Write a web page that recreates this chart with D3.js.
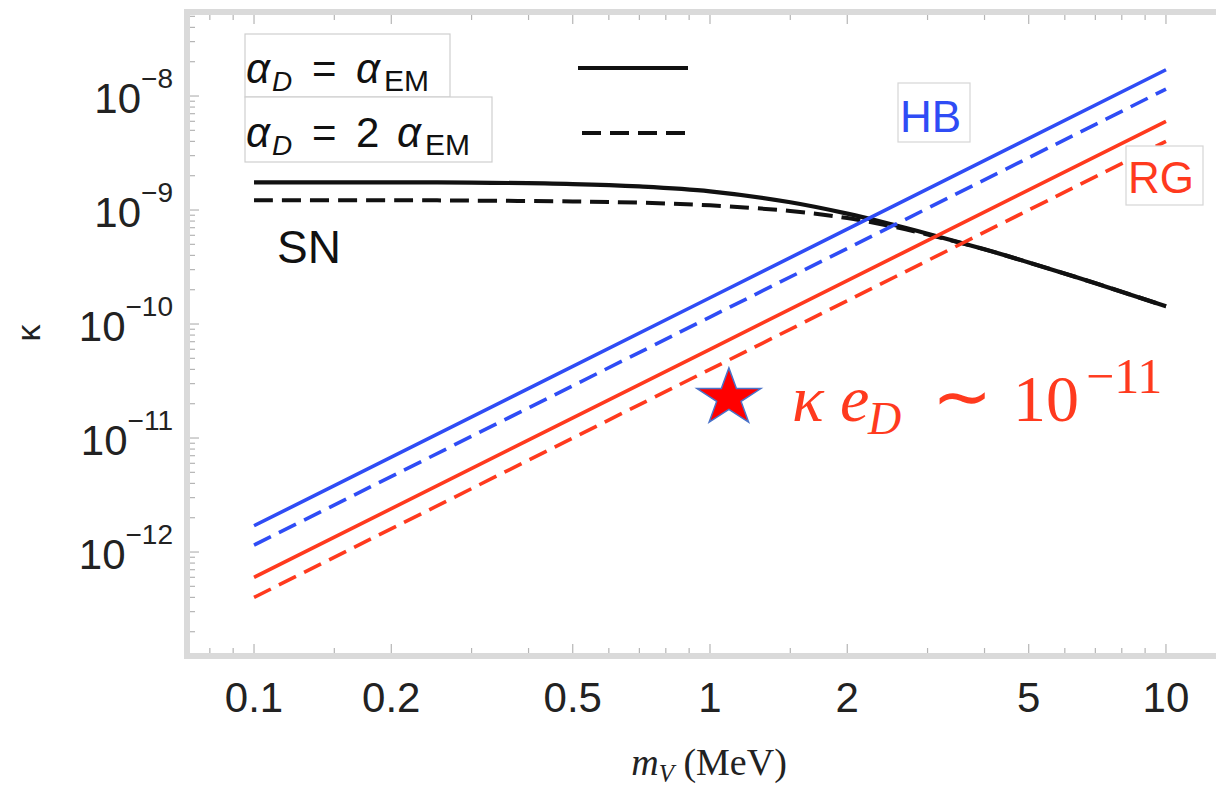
<!DOCTYPE html>
<html>
<head>
<meta charset="utf-8">
<script src="https://cdn.jsdelivr.net/npm/d3@7"></script>
<style>
  html, body { margin: 0; padding: 0; background: #fff; }
  svg { display: block; }
</style>
</head>
<body>
<div id="chart"></div>
<script>
// datos
const massTicks = [0.1, 0.2, 0.5, 1, 2, 5, 10];
const massMinor = [0.08, 0.09, 0.15, 0.3, 0.4, 0.6, 0.7, 0.8, 0.9, 1.5, 3, 4, 6, 7, 8, 9, 15];
const kappaTicks = [1e-12, 1e-11, 1e-10, 1e-9, 1e-8];
const kappaExp = ["−12", "−11", "−10", "−9", "−8"];

const mLine = [0.1, 1, 10];
const hbSolid = [1.7e-12, 1.7e-10, 1.7e-8];
const hbDashed = [1.15e-12, 1.15e-10, 1.15e-8];
const rgSolid = [6.0e-13, 6.0e-11, 6.0e-9];
const rgDashed = [4.0e-13, 4.0e-11, 4.0e-9];

const mSN = [0.1, 0.2, 0.3, 0.5, 0.7, 1, 1.5, 2, 2.5, 3, 4, 5, 7, 10];
const snSolid = [1.75e-9, 1.75e-9, 1.74e-9, 1.69e-9, 1.61e-9, 1.46e-9, 1.17e-9, 9.3e-10, 7.5e-10, 6.2e-10, 4.52e-10, 3.47e-10, 2.28e-10, 1.43e-10];
const snDashed = [1.22e-9, 1.22e-9, 1.21e-9, 1.19e-9, 1.16e-9, 1.1e-9, 9.8e-10, 8.5e-10, 7.2e-10, 6.1e-10, 4.52e-10, 3.47e-10, 2.28e-10, 1.43e-10];

const starM = [1.1];
const starK = [2.25e-11];

const width = 1216, height = 792;
const BLUE = "#2f4cf5", RED = "#ff3a1e", FRAME = "#dadada", TICK = "#b5b5b5";

const svg = d3.select("#chart").append("svg")
    .attr("width", width)
    .attr("height", height);

svg.append("rect").attr("width", width).attr("height", height).attr("fill", "#fff");

// escalas logaritmicas
const x = d3.scaleLog().domain([Math.pow(10, -1.147), Math.pow(10, 1.147)]).range([187, 1233]);
const y = d3.scaleLog().domain([Math.pow(10, -12.912), Math.pow(10, -7.263)]).range([656, 12]);

const [x0, x1] = x.range();
const [y0, y1] = y.range();

// marco estilo Mathematica
const frame = svg.append("g");
frame.append("rect")
    .attr("x", x0).attr("y", y1)
    .attr("width", x1 - x0).attr("height", y0 - y1)
    .attr("fill", "none").attr("stroke", FRAME).attr("stroke-width", 6);

// ticks del eje x (abajo y arriba, hacia dentro)
const xt = frame.append("g").attr("stroke", TICK).attr("stroke-width", 1.2);
massTicks.concat(massMinor).forEach(m => {
    const len = massTicks.includes(m) ? 9 : 5;
    xt.append("line").attr("x1", x(m)).attr("x2", x(m)).attr("y1", y0 - 3).attr("y2", y0 - 3 - len);
    xt.append("line").attr("x1", x(m)).attr("x2", x(m)).attr("y1", y1 + 3).attr("y2", y1 + 3 + len);
});

// ticks del eje y (menores en cada decada)
const yt = frame.append("g").attr("stroke", TICK).attr("stroke-width", 1.2);
for (let e = -13; e <= -8; e++) {
    for (let k = 1; k <= 9; k++) {
        const v = k * Math.pow(10, e);
        if (v < y.domain()[0] || v > y.domain()[1]) continue;
        const len = k === 1 ? 9 : 5;
        yt.append("line").attr("x1", x0 + 3).attr("x2", x0 + 3 + len).attr("y1", y(v)).attr("y2", y(v));
    }
}

// etiquetas eje x
svg.append("g").selectAll("text")
    .data(massTicks)
    .enter().append("text")
    .attr("x", d => x(d))
    .attr("y", 712)
    .attr("text-anchor", "middle")
    .attr("font-family", "Liberation Sans, Arial, sans-serif")
    .attr("font-size", 42)
    .attr("fill", "#222")
    .text(d => String(d));

// etiquetas eje y: 10^n
const ylab = svg.append("g").selectAll("text")
    .data(kappaTicks)
    .enter().append("text")
    .attr("x", 173)
    .attr("y", d => y(d) + 17)
    .attr("text-anchor", "end")
    .attr("font-family", "Liberation Sans, Arial, sans-serif")
    .attr("fill", "#222");
ylab.append("tspan").attr("font-size", 42).text("10");
ylab.append("tspan").attr("font-size", 28).attr("dy", -25).text((d, i) => kappaExp[i]);

// titulos de ejes
svg.append("text")
    .attr("transform", "translate(40,333) rotate(-90)")
    .attr("text-anchor", "middle")
    .attr("font-family", "Liberation Sans, Arial, sans-serif")
    .attr("font-size", 34)
    .attr("fill", "#222")
    .text("κ");

const xl = svg.append("text")
    .attr("x", 709).attr("y", 775)
    .attr("text-anchor", "middle")
    .attr("font-family", "Liberation Serif, Times New Roman, serif")
    .attr("font-size", 38)
    .attr("fill", "#222");
xl.append("tspan").attr("font-style", "italic").text("m");
xl.append("tspan").attr("font-style", "italic").attr("font-size", 25).attr("dy", 7).text("V");
xl.append("tspan").attr("dy", -7).text(" (MeV)");

// curvas
const line = d3.line()
    .x(d => x(d[0]))
    .y(d => y(d[1]))
    .curve(d3.curveCatmullRom.alpha(0.5));

const series = [
    { m: mSN, k: snSolid, color: "#111", dash: null, w: 4.2 },
    { m: mSN, k: snDashed, color: "#111", dash: "19,9", w: 4 },
    { m: mLine, k: hbSolid, color: BLUE, dash: null, w: 3.6 },
    { m: mLine, k: hbDashed, color: BLUE, dash: "19,9", w: 3.6 },
    { m: mLine, k: rgSolid, color: RED, dash: null, w: 3.6 },
    { m: mLine, k: rgDashed, color: RED, dash: "19,9", w: 3.6 }
];

svg.append("g").selectAll("path")
    .data(series)
    .enter().append("path")
    .attr("d", s => line(s.m.map((m, i) => [m, s.k[i]])))
    .attr("fill", "none")
    .attr("stroke", s => s.color)
    .attr("stroke-width", s => s.w)
    .attr("stroke-dasharray", s => s.dash);

// leyenda
const leg = svg.append("g")
    .attr("font-family", "Liberation Sans, Arial, sans-serif")
    .attr("fill", "#111");
leg.append("rect").attr("x", 245).attr("y", 34).attr("width", 205).attr("height", 63)
    .attr("fill", "#fff").attr("stroke", "#cfcfcf").attr("stroke-width", 1.2);
leg.append("rect").attr("x", 245).attr("y", 97).attr("width", 247).attr("height", 65)
    .attr("fill", "#fff").attr("stroke", "#cfcfcf").attr("stroke-width", 1.2);

function legendText(yb, withTwo) {
    const t = leg.append("text").attr("y", yb).attr("font-size", 42);
    t.append("tspan").attr("x", 246).attr("font-style", "italic").text("α");
    t.append("tspan").attr("x", 272).attr("font-style", "italic").attr("font-size", 28).attr("dy", 8).text("D");
    t.append("tspan").attr("x", 312).attr("dy", -8).text("=");
    if (withTwo) {
        t.append("tspan").attr("x", 356).text("2");
        t.append("tspan").attr("x", 397).attr("font-style", "italic").text("α");
        t.append("tspan").attr("x", 425).attr("font-size", 30).attr("dy", 8).text("EM");
    } else {
        t.append("tspan").attr("x", 356).attr("font-style", "italic").text("α");
        t.append("tspan").attr("x", 384).attr("font-size", 30).attr("dy", 8).text("EM");
    }
}
legendText(83, false);
legendText(147, true);

leg.append("line").attr("x1", 578).attr("x2", 688).attr("y1", 68).attr("y2", 68)
    .attr("stroke", "#111").attr("stroke-width", 4);
leg.append("line").attr("x1", 582).attr("x2", 685).attr("y1", 133).attr("y2", 133)
    .attr("stroke", "#111").attr("stroke-width", 4).attr("stroke-dasharray", "19,9");

// etiquetas HB, RG, SN
function boxLabel(txt, bx, by, bw, bh, tx, ty, color) {
    svg.append("rect").attr("x", bx).attr("y", by).attr("width", bw).attr("height", bh)
        .attr("fill", "#fff").attr("stroke", "#d6d6d6").attr("stroke-width", 1.2);
    svg.append("text").attr("x", tx).attr("y", ty)
        .attr("font-family", "Liberation Sans, Arial, sans-serif")
        .attr("font-size", 44)
        .attr("fill", color)
        .text(txt);
}
boxLabel("HB", 898, 83, 72, 59, 900, 132, BLUE);
boxLabel("RG", 1126, 146, 77, 59, 1128, 193, RED);

svg.append("text").attr("x", 277).attr("y", 263)
    .attr("font-family", "Liberation Sans, Arial, sans-serif")
    .attr("font-size", 46)
    .attr("fill", "#111")
    .text("SN");

// estrella
const R = 30, r = R * 0.382;
const starPath = d3.range(10).map(i => {
    const a = -Math.PI / 2 + i * Math.PI / 5;
    const rad = i % 2 === 0 ? R : r;
    return [Math.cos(a) * rad * 1.12, Math.sin(a) * rad];
});
svg.append("g").selectAll("path")
    .data(starM.map((m, i) => [m, starK[i]]))
    .enter().append("path")
    .attr("transform", d => "translate(" + x(d[0]) + "," + y(d[1]) + ")")
    .attr("d", "M" + starPath.join("L") + "Z")
    .attr("fill", "#ff0000")
    .attr("stroke", "#4a72c8")
    .attr("stroke-width", 1.5);

// anotacion kappa e_D ~ 10^-11
const ann = svg.append("text")
    .attr("y", 421)
    .attr("font-family", "Liberation Serif, Times New Roman, serif")
    .attr("font-size", 66)
    .attr("fill", RED);
ann.append("tspan").attr("x", 792).attr("font-style", "italic").text("κ");
ann.append("tspan").attr("x", 840).attr("font-style", "italic").text("e");
ann.append("tspan").attr("x", 868).attr("font-style", "italic").attr("font-size", 46).attr("dy", 13).text("D");
ann.append("tspan").attr("x", 932).attr("dy", -13).attr("font-size", 72).text("∼");
ann.append("tspan").attr("x", 1013).text("10");
ann.append("tspan").attr("x", 1086).attr("font-size", 50).attr("dy", -28).text("−11");
</script>
</body>
</html>
